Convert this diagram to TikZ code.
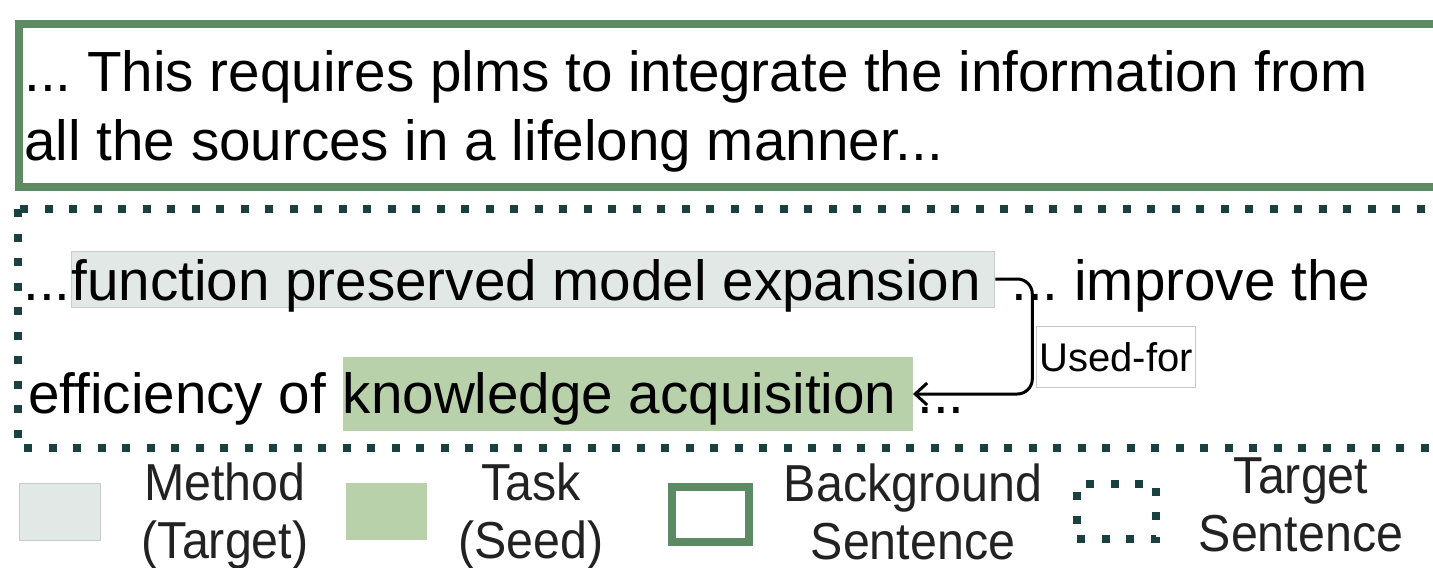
\documentclass[tikz,border=0pt]{standalone}
\usepackage{fontspec}
\setmainfont{Liberation Sans}
\usetikzlibrary{arrows.meta,positioning,calc}
\frenchspacing

\definecolor{bggreen}{HTML}{5B8A63}
\definecolor{dotteal}{HTML}{1A4040}
\definecolor{methgray}{HTML}{E1E8E5}
\definecolor{methedge}{HTML}{C8CDCB}
\definecolor{taskgreen}{HTML}{B9D1AA}
\definecolor{legtext}{HTML}{222222}

\begin{document}
\begin{tikzpicture}[x=0.5pt, y=-0.5pt,
  >=Stealth,
  txt/.style={font=\fontsize{28.3pt}{34.5pt}\selectfont, inner sep=0pt, anchor=base west},
  meth/.style={txt, fill=methgray, draw=methedge, line width=0.5pt, text height=24.5pt, text depth=3.5pt},
  task/.style={txt, fill=taskgreen, text height=28pt, text depth=9pt},
  bgbox/.style={draw=bggreen, line width=4pt},
  tgtbox/.style={draw=dotteal, line width=4pt, dash pattern=on 4pt off 8.25pt},
  rel/.style={draw=black!22, fill=white, line width=0.6pt, inner sep=0pt,
    minimum width=79.5pt, minimum height=30.5pt, font=\fontsize{20pt}{24pt}\selectfont},
  swatch/.style={minimum width=40.5pt, minimum height=28.5pt, inner sep=0pt},
  legend/.style={font=\fontsize{26pt}{29pt}\selectfont, text=legtext, align=center,
    inner sep=0pt, anchor=base, xscale=0.93, transform shape},
]
\useasboundingbox (0,0) rectangle (1433,567);

% ======================= Background sentence =======================
\draw[bgbox] (19,24) rectangle (1450,187);
% (base anchor of a two-line node sits on its last line)
\node[txt, align=left] (bg) at (24,160)
  {... This requires plms to integrate the information from\\all the sources in a lifelong manner...};

% ======================= Target sentence ===========================
\draw[tgtbox] (18,209) rectangle (1450,448);
\node[txt] (dots1) at (23,300) {...};
\node[meth] (meth) at (dots1.base east) {function preserved model expansion\kern7pt};
\node[txt] (rest1) at (meth.base east) {\ ... improve the};
\node[txt] (eff) at (28,413) {efficiency of\ \kern0pt};
\node[task] (task) at (eff.base east) {knowledge acquisition\kern8pt};
\node[txt] (rest2) at (task.base east) {\kern2pt...};

% relation arrow (method -> task)
\node[rel] (usedfor) at (1116,357) {Used-for};
\draw[-{Straight Barb[length=6pt,width=11pt]}, line width=1.5pt, rounded corners=7.5pt]
  (meth.east) -- ++(37,0) |- (task.east);

% ======================= Legend ====================================
\node[swatch, fill=methgray, draw=methedge, line width=0.5pt] (lgmeth) at (59.5,511.5) {};
\node[legend] (lgmethtxt) at (225,558) {Method\\(Target)};
\node[swatch, fill=taskgreen] (lgtask) at (386.5,511.5) {};
\node[legend] (lgtasktxt) at (531,558) {Task\\(Seed)};
\node[swatch, bgbox, minimum width=38.5pt, minimum height=27.5pt] (lgbg) at (710.5,514.5) {};
\node[legend] (lgbgtxt) at (913,559) {Background\\Sentence};
\node[swatch, tgtbox, minimum width=39.5pt, minimum height=27.5pt] (lgtgt) at (1116.5,511.5) {};
\node[legend] (lgtgttxt) at (1301,551) {Target\\Sentence};

\end{tikzpicture}
\end{document}
